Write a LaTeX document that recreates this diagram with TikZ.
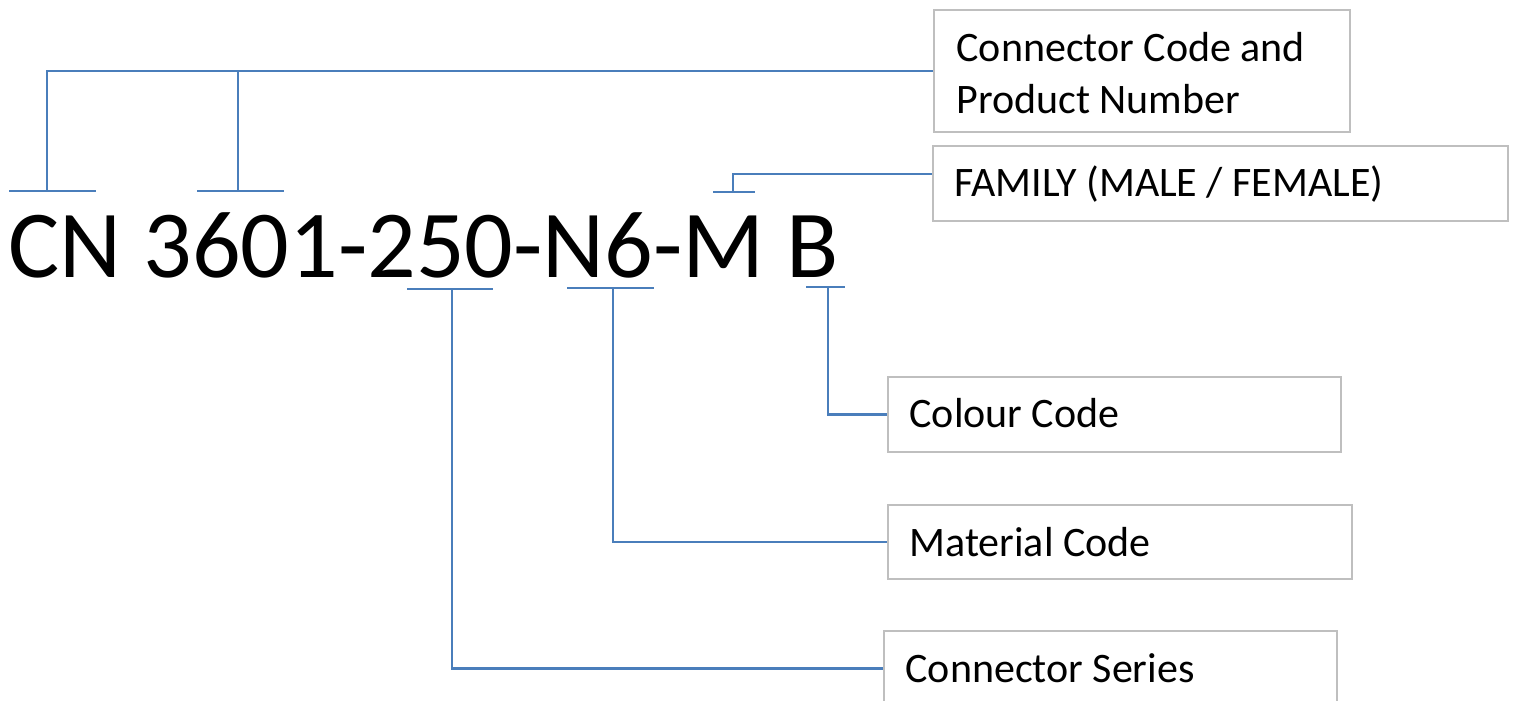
\documentclass[tikz,border=0pt]{standalone}
\usepackage{fontspec}
\setmainfont{Carlito}
\definecolor{linkblue}{RGB}{74,126,187}
\definecolor{boxgray}{RGB}{191,191,191}
\tikzset{every picture/.style={line width=0.75pt}}
\tikzset{
  link/.style={color=linkblue, line width=1.9pt},
  labelbox/.style={draw=boxgray, line width=1.5pt, anchor=north west, inner sep=0pt},
  labeltext/.style={anchor=west, inner sep=0.75pt, align=left, font=\fontsize{31.5}{39}\selectfont},
}

\begin{document}
\begin{tikzpicture}[x=0.75pt,y=0.75pt,yscale=-1,xscale=1]
\useasboundingbox (0,0) rectangle (1515,700);

%Shape: Rectangles
\node[labelbox, minimum width=312pt, minimum height=91.5pt] (codebox) at (933,9) {};
\node[labelbox, minimum width=431.25pt, minimum height=56.25pt] (familybox) at (932,145) {};
\node[labelbox, minimum width=339.75pt, minimum height=56.25pt] (colourbox) at (887,376) {};
\node[labelbox, minimum width=348pt, minimum height=55.5pt] (materialbox) at (887,504) {};
\node[labelbox, minimum width=339.75pt, minimum height=56.25pt] (seriesbox) at (883,630) {};

% Text Node
\draw (8,277) node [anchor=base west][inner sep=0pt][font=\fontsize{72}{86}\selectfont] (partcode) {CN 3601-250-N6-M B};
\draw (955,73) node [labeltext] (codetext) {Connector Code and\\Product Number};
\draw (953,184) node [labeltext] (familytext) {FAMILY (MALE / FEMALE)};
\draw (908,413) node [labeltext] (colourtext) {Colour Code};
\draw (908,542) node [labeltext] (materialtext) {Material Code};
\draw (904,668) node [labeltext] (seriestext) {Connector Series};

%Straight Lines: bars over and under the code
\draw[link] (9,191) -- (96,191);
\draw[link] (197,191) -- (284,191);
\draw[link] (713,192) -- (755,192);
\draw[link] (407,289) -- (493,289);
\draw[link] (567,288) -- (654,288);
\draw[link] (806,287) -- (845,287);

\coordinate (cntick) at (47,191);
\coordinate (numtick) at (238,191);
\coordinate (familytick) at (733,192);
\coordinate (seriestick) at (452,289);
\coordinate (materialtick) at (613,288);
\coordinate (colourtick) at (828,287);

%Straight Lines: connectors
\draw[link] (cntick) |- (codebox.west);
\draw[link] (numtick) -- (numtick |- codebox.west);
\draw[link] (familytick) |- ([yshift=-7pt]familybox.west);
\draw[link] (seriestick) |- (seriesbox.west);
\draw[link] (materialtick) |- (materialbox.west);
\draw[link] (colourtick) |- (colourbox.west);

\end{tikzpicture}
\end{document}
